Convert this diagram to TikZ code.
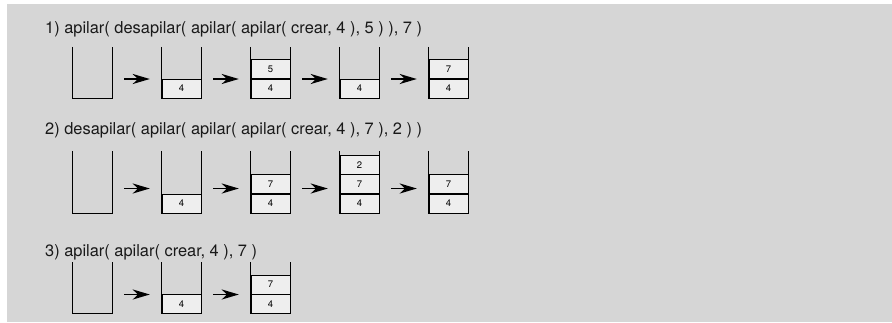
\documentclass[tikz,border=0pt]{standalone}
\usepackage{fontspec}
\setmainfont{TeX Gyre Heros}
\usepackage {tikz}
\usetikzlibrary {positioning}
\usetikzlibrary{arrows.meta}
\definecolor{fondo}{HTML}{D6D6D6}
\definecolor{relleno}{HTML}{EEEEEE}

\begin{document}
\begin{tikzpicture}[x=1pt, y=-1pt, node distance = 89pt and 89pt, on grid,
  titulo/.style ={anchor = base west, inner sep = 0pt, text = black!90,
  font = \fontsize{16.4}{18}\selectfont},
  pila/.style ={ rectangle, draw = none, minimum width = 39pt, minimum height = 51pt, inner sep = 0pt},
  pila_alta/.style ={ pila, minimum height = 62pt},
  celda/.style ={ rectangle, draw, fill = relleno, text = black, anchor = south,
  minimum width = 39pt, minimum height = 19pt, inner sep = 0pt,
  font = \fontsize{9.5}{9.5}\selectfont},
  flecha/.style ={ -{Stealth[length = 17pt, width = 10pt, inset = 5pt]}, line width = 1.8pt,
  shorten < = 12pt, shorten > = 12pt}]
  \fill[fondo] (7,4) rectangle (892,322);
  \useasboundingbox (0,0) rectangle (892,322);

  % fila 1
  \node[titulo] (T1) at (45,33) {1) apilar( desapilar( apilar( apilar( crear, 4 ), 5 ) ), 7 )};
  \node[pila] (A1) at (92.5,72.5) {};
  \node[pila] (A2) [right=of A1] {};
  \node[pila] (A3) [right=of A2] {};
  \node[pila] (A4) [right=of A3] {};
  \node[pila] (A5) [right=of A4] {};
  \node[celda] (A2a) at (A2.south) {4};
  \node[celda] (A3a) at (A3.south) {4};
  \node[celda] (A3b) at (A3a.north) {5};
  \node[celda] (A4a) at (A4.south) {4};
  \node[celda] (A5a) at (A5.south) {4};
  \node[celda] (A5b) at (A5a.north) {7};

  % fila 2
  \node[titulo] (T2) at (45,134) {2) desapilar( apilar( apilar( apilar( crear, 4 ), 7 ), 2 ) )};
  \node[pila_alta] (B1) at (92.5,182) {};
  \node[pila_alta] (B2) [right=of B1] {};
  \node[pila_alta] (B3) [right=of B2] {};
  \node[pila_alta] (B4) [right=of B3] {};
  \node[pila_alta] (B5) [right=of B4] {};
  \node[celda] (B2a) at (B2.south) {4};
  \node[celda] (B3a) at (B3.south) {4};
  \node[celda] (B3b) at (B3a.north) {7};
  \node[celda] (B4a) at (B4.south) {4};
  \node[celda] (B4b) at (B4a.north) {7};
  \node[celda] (B4c) at (B4b.north) {2};
  \node[celda] (B5a) at (B5.south) {4};
  \node[celda] (B5b) at (B5a.north) {7};

  % fila 3
  \node[titulo] (T3) at (45,256) {3) apilar( apilar( crear, 4 ), 7 )};
  \node[pila] (C1) at (92.5,288) {};
  \node[pila] (C2) [right=of C1] {};
  \node[pila] (C3) [right=of C2] {};
  \node[celda] (C2a) at (C2.south) {4};
  \node[celda] (C3a) at (C3.south) {4};
  \node[celda] (C3b) at (C3a.north) {7};

  % paredes de las pilas
  \foreach \p in {A1,A2,A3,A4,A5,B1,B2,B3,B4,B5,C1,C2,C3}
    \draw[line width = 0.8pt] (\p.north west) -- (\p.south west) -- (\p.south east) -- (\p.north east);

  % flechas
  \foreach \a/\b in {A1/A2,A2/A3,A3/A4,A4/A5,B1/B2,B2/B3,B3/B4,B4/B5,C1/C2,C2/C3}
    \draw[flecha] ([yshift=-6.5pt]\a.east) -- ([yshift=-6.5pt]\b.west);
\end{tikzpicture}
\end{document}
